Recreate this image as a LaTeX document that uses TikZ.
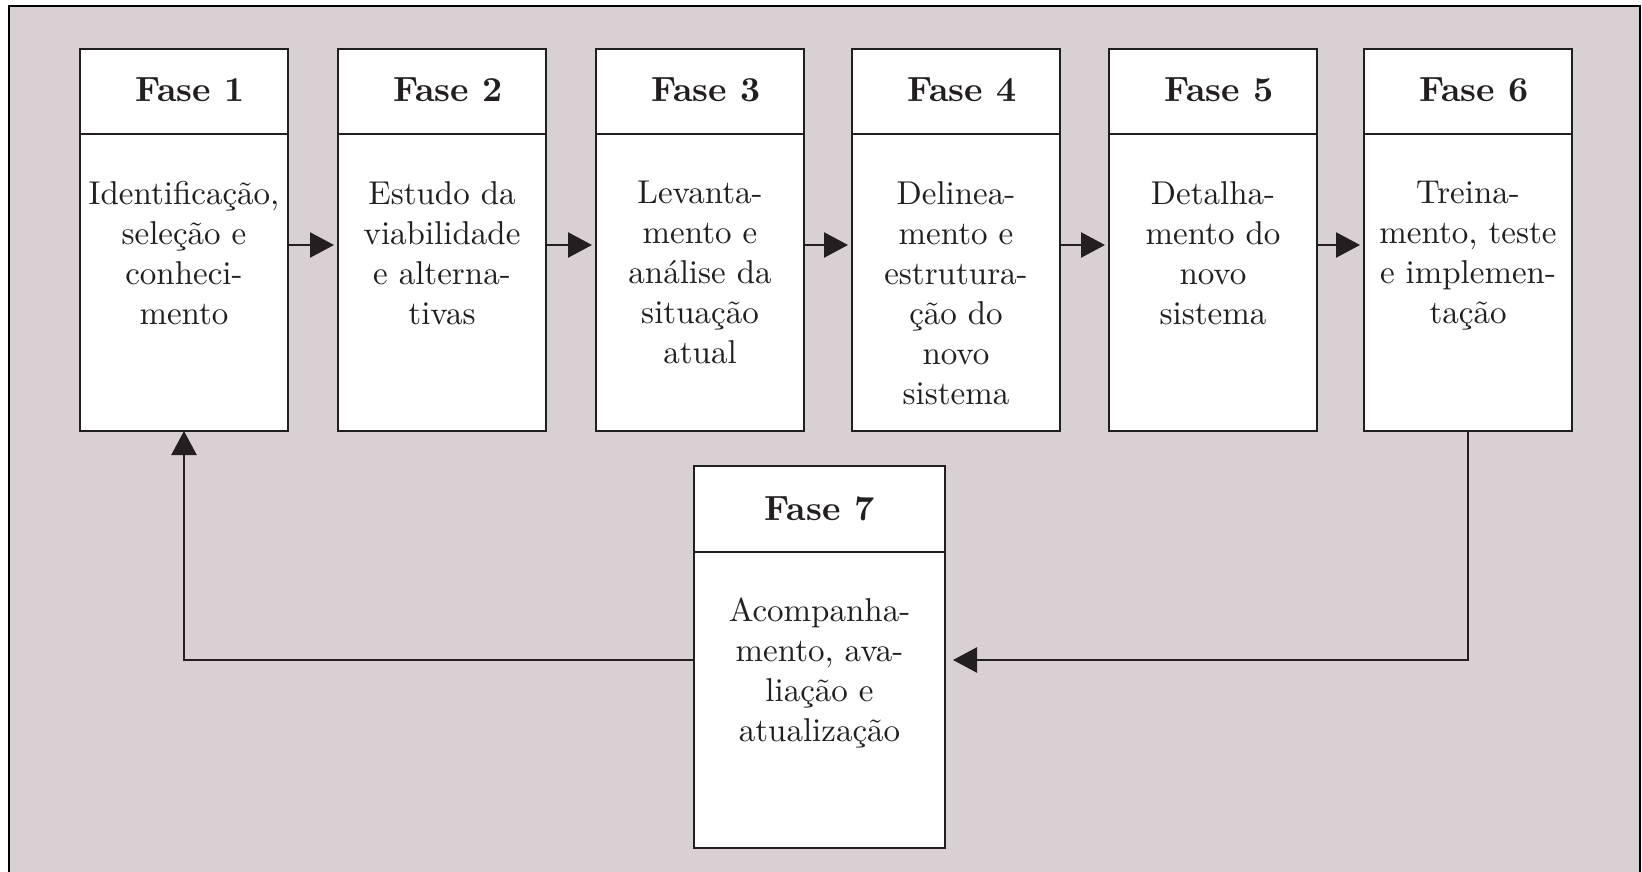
\documentclass[tikz,border=0pt]{standalone}
\usepackage{fontspec}
\setmainfont{lmroman10-regular}[Extension=.otf, BoldFont=lmroman10-bold]
\usetikzlibrary{arrows.meta}
\definecolor{bgc}{RGB}{217,208,211}
\definecolor{ink}{RGB}{35,31,32}
\begin{document}
\begin{tikzpicture}[x=1pt,y=-1pt,
  phasebox/.style={draw=ink, fill=white, line width=2.7pt, minimum width=208pt, minimum height=382pt, inner sep=0pt, outer sep=0pt},
  lastbox/.style={phasebox, minimum width=251pt},
  divider/.style={draw=ink, line width=2.7pt},
  headtxt/.style={font=\fontsize{35}{40}\selectfont\bfseries, text=ink, inner sep=0pt, anchor=base},
  bodytxt/.style={font=\fontsize{33}{40}\selectfont, text=ink, inner sep=0pt, anchor=north, align=center},
  conn/.style={draw=ink, line width=2.5pt, -{Triangle[length=24pt,width=25pt]}, shorten >=4pt},
  feed/.style={draw=ink, line width=2.5pt, -{Triangle[length=24pt,width=25pt]}}
]
\useasboundingbox (0,0) rectangle (1642,872);
\clip (0,0) rectangle (1642,872);
\fill[white] (0,0) rectangle (1642,872);
\draw[fill=bgc, line width=2pt, draw=black] (9,6) rectangle (1640,900);

% phase boxes
\node[phasebox] (f1) at (184,240) {};
\node[phasebox] (f2) at (442,240) {};
\node[phasebox] (f3) at (700,240) {};
\node[phasebox] (f4) at (956,240) {};
\node[phasebox] (f5) at (1213,240) {};
\node[phasebox] (f6) at (1468,240) {};
\node[lastbox] (f7) at (819.5,657) {};

% dividers
\foreach \n in {f1,f2,f3,f4,f5,f6}{
  \draw[divider] ([yshift=-85pt]\n.north west) -- ([yshift=-85pt]\n.north east);
}
\draw[divider] ([yshift=-86pt]f7.north west) -- ([yshift=-86pt]f7.north east);

% headings
\node[headtxt] (h1) at (190,102) {Fase 1};
\node[headtxt] (h2) at (448,102) {Fase 2};
\node[headtxt] (h3) at (706,102) {Fase 3};
\node[headtxt] (h4) at (962,102) {Fase 4};
\node[headtxt] (h5) at (1219,102) {Fase 5};
\node[headtxt] (h6) at (1474,102) {Fase 6};
\node[headtxt] (h7) at (819.5,520) {Fase 7};

% bodies
\node[bodytxt] (b1) at (184,181) {Identificação,\\seleção e\\conheci-\\mento};
\node[bodytxt] (b2) at (442,181) {Estudo da\\viabilidade\\e alterna-\\tivas};
\node[bodytxt] (b3) at (700,181) {Levanta-\\mento e\\análise da\\situação\\atual};
\node[bodytxt] (b4) at (956,181) {Delinea-\\mento e\\estrutura-\\ção do\\novo\\sistema};
\node[bodytxt] (b5) at (1213,181) {Detalha-\\mento do\\novo\\sistema};
\node[bodytxt] (b6) at (1468,181) {Treina-\\mento, teste\\e implemen-\\tação};
\node[bodytxt] (b7) at (819.5,598) {Acompanha-\\mento, ava-\\liação e\\atualização};

% connectors
\draw[conn] ([yshift=-5pt]f1.east) -- ([yshift=-5pt]f2.west);
\draw[conn] ([yshift=-5pt]f2.east) -- ([yshift=-5pt]f3.west);
\draw[conn] ([yshift=-5pt]f3.east) -- ([yshift=-5pt]f4.west);
\draw[conn] ([yshift=-5pt]f4.east) -- ([yshift=-5pt]f5.west);
\draw[conn] ([yshift=-5pt]f5.east) -- ([yshift=-5pt]f6.west);
\draw[feed, shorten >=8pt] (f6.south) |- ([yshift=-3pt]f7.east);
\draw[feed] ([yshift=-3pt]f7.west) -| (f1.south);
\end{tikzpicture}
\end{document}
